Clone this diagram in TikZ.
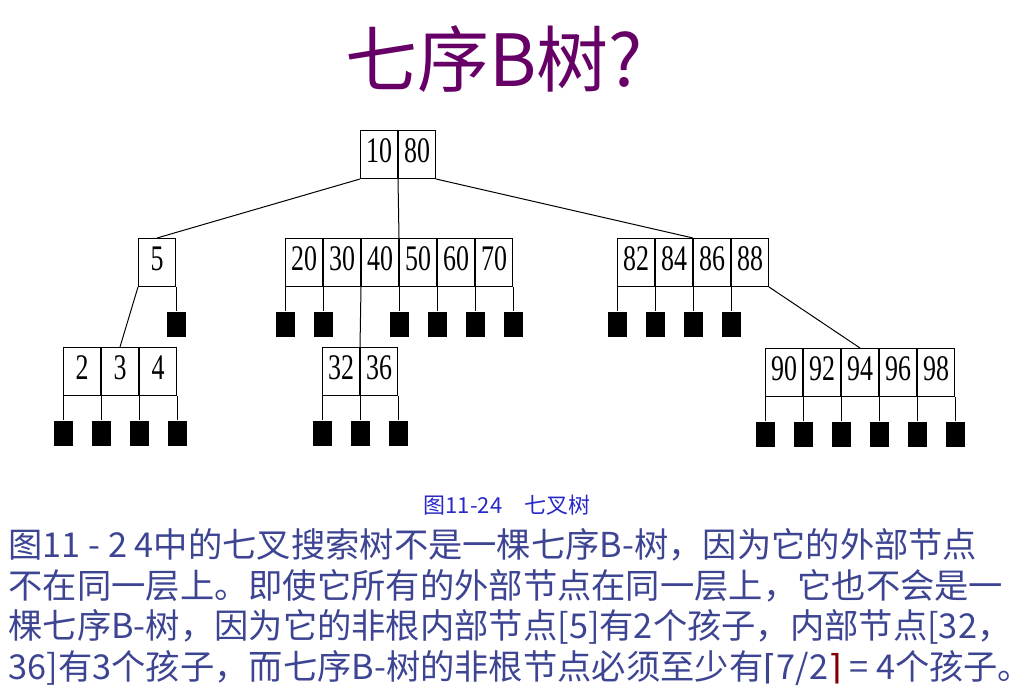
\documentclass[tikz,border=0pt]{standalone}
\usepackage{fontspec}
\setmainfont{Noto Sans CJK SC}
\newfontfamily\treefont[FakeStretch=0.72]{Liberation Serif}
\newfontfamily\symfont{DejaVu Sans}
\usetikzlibrary{positioning}
\definecolor{titlepurple}{RGB}{102,0,102}
\definecolor{capblue}{RGB}{40,40,200}
\definecolor{bodyblue}{RGB}{61,69,147}
\definecolor{ceilred}{RGB}{128,0,0}
\tikzset{
  cell/.style={draw, anchor=north west, minimum width=37bp, minimum height=48bp,
    inner sep=0pt, text height=25bp, text depth=9bp,
    font={\treefont\fontsize{36bp}{38bp}\selectfont}},
  leaf/.style={fill=black, minimum width=19bp, minimum height=25bp, inner sep=0pt},
  bodyline/.style={anchor=west, inner sep=0pt, text=bodyblue,
    font={\fontsize{34.3bp}{40bp}\selectfont}},
}
\begin{document}
\begin{tikzpicture}[x=1bp, y=-1bp, line width=1bp]
\useasboundingbox (0,0) rectangle (1011,690);
\def\extleaf#1#2{\node[leaf, below=24bp of #2] (#1) {};\draw (#2) -- (#1);}
% title
\node[text=titlepurple, font={\fontsize{72bp}{72bp}\selectfont}] (title) at (494,59) {七序B树?};
% root
\node[cell] (r10) at (360,130) {10};
\node[cell, right=0pt of r10] (r80) {80};
% second level
\node[cell] (n5) at (138,238) {5};
\node[cell] (n20) at (285,238) {20};
\node[cell, right=0pt of n20] (n30) {30};
\node[cell, right=0pt of n30] (n40) {40};
\node[cell, right=0pt of n40] (n50) {50};
\node[cell, right=0pt of n50] (n60) {60};
\node[cell, right=0pt of n60] (n70) {70};
\node[cell] (n82) at (617,238) {82};
\node[cell, right=0pt of n82] (n84) {84};
\node[cell, right=0pt of n84] (n86) {86};
\node[cell, right=0pt of n86] (n88) {88};
% third level
\node[cell] (n2) at (63,347) {2};
\node[cell, right=0pt of n2] (n3) {3};
\node[cell, right=0pt of n3] (n4) {4};
\node[cell] (n32) at (322,347) {32};
\node[cell, right=0pt of n32] (n36) {36};
\node[cell] (n90) at (765,348) {90};
\node[cell, right=0pt of n90] (n92) {92};
\node[cell, right=0pt of n92] (n94) {94};
\node[cell, right=0pt of n94] (n96) {96};
\node[cell, right=0pt of n96] (n98) {98};
% pointers between internal nodes
\draw (r10.south west) -- (n5.north);
\draw (r10.south east) -- (n50.north west);
\draw (r80.south east) -- (n86.north west);
\draw (n5.south west) -- (n3.north);
\draw (n30.south east) -- (n32.north east);
\draw (n88.south east) -- (n94.north);
% external nodes
\extleaf{e5}{n5.south east}
\extleaf{e20}{n20.south west}
\extleaf{e30}{n30.south west}
\extleaf{e50}{n50.south west}
\extleaf{e60}{n60.south west}
\extleaf{e70}{n70.south west}
\extleaf{e70r}{n70.south east}
\extleaf{e82}{n82.south west}
\extleaf{e84}{n84.south west}
\extleaf{e86}{n86.south west}
\extleaf{e88}{n88.south west}
\extleaf{e2}{n2.south west}
\extleaf{e3}{n3.south west}
\extleaf{e4}{n4.south west}
\extleaf{e4r}{n4.south east}
\extleaf{e32}{n32.south west}
\extleaf{e36}{n36.south west}
\extleaf{e36r}{n36.south east}
\extleaf{e90}{n90.south west}
\extleaf{e92}{n92.south west}
\extleaf{e94}{n94.south west}
\extleaf{e96}{n96.south west}
\extleaf{e98}{n98.south west}
\extleaf{e98r}{n98.south east}
% caption and text
\node[text=capblue, font={\fontsize{22bp}{24bp}\selectfont}] (caption) at (507,505) {图11-24\quad 七叉树};
\node[bodyline] (line1) at (8,545) {图11 - 2 4中的七叉搜索树不是一棵七序B-树，因为它的外部节点};
\node[bodyline] (line2) at (8,586) {不在同一层上。即使它所有的外部节点在同一层上，它也不会是一};
\node[bodyline] (line3) at (8,627) {棵七序B-树，因为它的非根内部节点[5]有2个孩子，内部节点[32，};
\node[bodyline] (line4) at (8,668) {36]有3个孩子，而七序B-树的非根节点必须至少有{\symfont ⌈}7/2{\symfont\color{ceilred}⌉} = 4个孩子。};
\end{tikzpicture}
\end{document}
